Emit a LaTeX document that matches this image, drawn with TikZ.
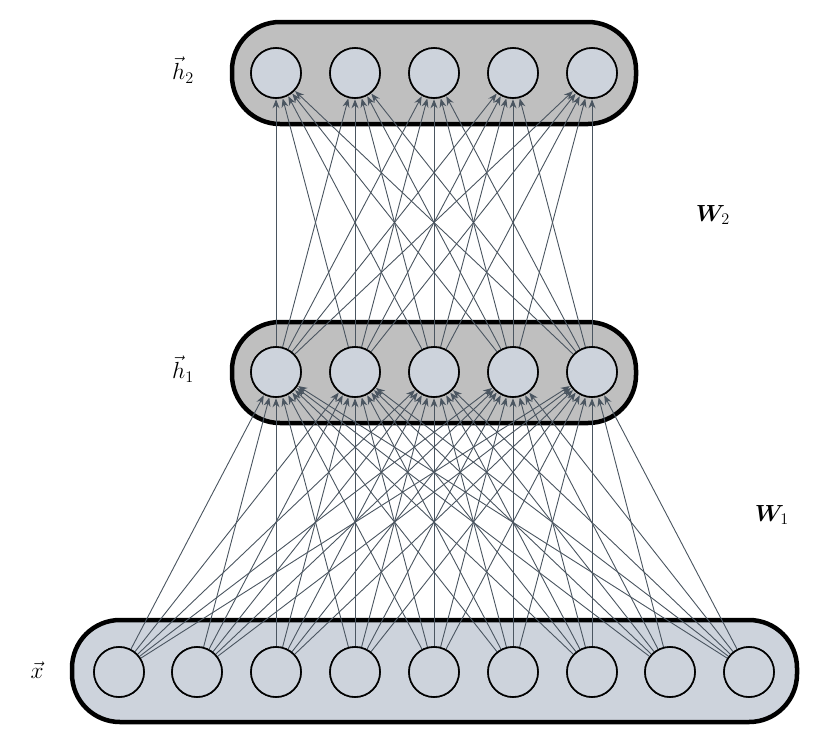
\documentclass[tikz,border=0pt]{standalone}
\usepackage{amsmath,bm}
\usetikzlibrary{arrows.meta}
\definecolor{cfill}{HTML}{CDD3DC}
\definecolor{bfill}{HTML}{BFBFBF}
\definecolor{edge}{HTML}{4A5560}
\begin{document}
\begin{tikzpicture}[x=1pt,y=-1pt,
  neuron/.style={circle,draw=black,line width=1.6pt,fill=cfill,minimum size=50pt,inner sep=0pt},
  layer/.style={draw=black,line width=4.5pt,rounded corners=48pt},
  conn/.style={draw=edge,line width=0.9pt,-{Stealth[length=9pt,width=7pt]},shorten >=0.5pt},
  lab/.style={font=\LARGE,scale=1.35}]
\useasboundingbox (0,0) rectangle (824,745);
\draw[layer,fill=bfill] (232,22) rectangle (636,124);
\draw[layer,fill=bfill] (232,322) rectangle (636,423);
\draw[layer,fill=cfill] (72,620) rectangle (797,722);
\foreach \i/\x in {1/276,2/355,3/434,4/513,5/592}{
  \coordinate (h2c\i) at (\x,73);
  \coordinate (h1c\i) at (\x,372);
}
\foreach \i/\x in {1/119,2/197,3/276,4/355,5/434,6/513,7/592,8/670,9/749}{
  \coordinate (xc\i) at (\x,672);
}
\foreach \i in {1,...,5}{
  \node[neuron] (h2\i) at (h2c\i) {};
  \node[neuron] (h1\i) at (h1c\i) {};
}
\foreach \i in {1,...,9}{ \node[neuron] (x\i) at (xc\i) {}; }
\foreach \i in {1,...,9}{\foreach \j in {1,...,5}{
  \draw[conn] (x\i) -- (h1\j);}}
\foreach \i in {1,...,5}{\foreach \j in {1,...,5}{
  \draw[conn] (h1\i) -- (h2\j);}}
\foreach \i in {1,...,5}{
  \node[neuron] at (h2c\i) {};
  \node[neuron] at (h1c\i) {};
}
\foreach \i in {1,...,9}{ \node[neuron] at (xc\i) {}; }
\node[lab] (l2) at (183,70) {$\vec{h}_2$};
\node[lab] (l1) at (183,369) {$\vec{h}_1$};
\node[lab] (lx) at (37,670) {$\vec{x}$};
\node[lab] (w2) at (713,215) {$\bm{W}_2$};
\node[lab] (w1) at (772,515) {$\bm{W}_1$};
\end{tikzpicture}
\end{document}
